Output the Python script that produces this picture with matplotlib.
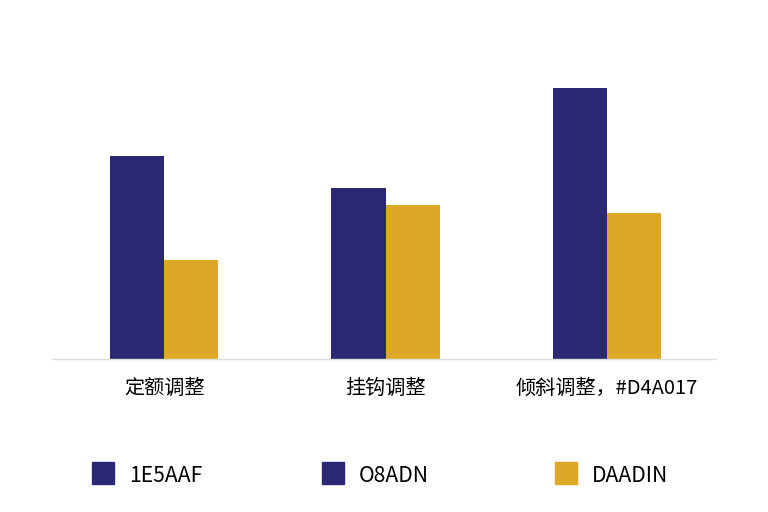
import matplotlib
matplotlib.use("Agg")
import matplotlib.pyplot as plt
from matplotlib.patches import Rectangle
import numpy as np

categories = ["定额调整", "挂钩调整", "倾斜调整，#D4A017"]
series_a = [75.0, 63.0, 100.0]
series_b = [36.5, 57.0, 54.0]
legend_labels = ["1E5AAF", "O8ADN", "DAADIN"]

navy = "#2A2775"
gold = "#DDA826"
legend_colors = [navy, navy, gold]

plt.rcParams['font.family'] = ['Noto Sans CJK SC', 'DejaVu Sans']

fig = plt.figure(figsize=(7.68, 5.12), dpi=100)
ax = fig.add_axes([52/768, 1-359/512, (716-52)/768, (359-60)/512])

x = np.arange(len(categories))
w = 0.245
ax.bar(x - w/2, series_a, width=w, color=navy)
ax.bar(x + w/2, series_b, width=w, color=gold)

ax.set_xlim(-0.506, 2.492)
ax.set_ylim(0, (359-60)/2.71)
for s in ["top", "right", "left"]:
    ax.spines[s].set_visible(False)
ax.spines["bottom"].set_color("#DDDDDD")
ax.spines["bottom"].set_linewidth(1.0)
ax.set_yticks([])
ax.set_xticks(x)
ax.set_xticklabels(categories, fontsize=14.5, color="#000000")
ax.tick_params(axis="x", length=0, pad=14)

# legend
lx = [92, 322, 555]
for i, lab in enumerate(legend_labels):
    fig.add_artist(Rectangle((lx[i]/768, 1-484/512), 22/768, 22/512,
                             transform=fig.transFigure, color=legend_colors[i]))
    fig.text((lx[i]+37)/768, 1-476/512, lab, fontsize=15.2,
             va="center", ha="left", color="#000000")

fig.savefig("out.png", dpi=100)
